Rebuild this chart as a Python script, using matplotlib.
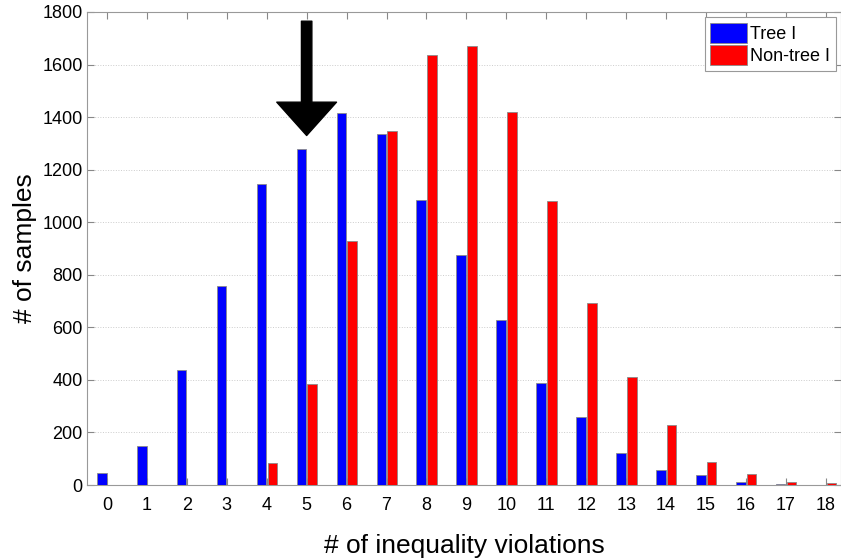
import numpy as np
import matplotlib
matplotlib.use("Agg")
import matplotlib.pyplot as plt

plt.rcParams['font.family'] = ['Liberation Sans', 'DejaVu Sans']

# data
violations = list(range(19))
tree = [45, 150, 436, 757, 1145, 1280, 1414, 1337, 1084, 875,
        628, 389, 259, 121, 56, 39, 10, 4, 0]
non_tree = [0, 0, 0, 0, 85, 383, 930, 1347, 1636, 1670,
            1418, 1081, 693, 411, 228, 89, 42, 10, 6]
labels = ['Tree I', 'Non-tree I']
arrow_x = 5
arrow_from = 1765
arrow_to = 1330

fig = plt.figure(figsize=(8.41, 5.59), dpi=100)
ax = fig.add_axes([87/841, 1 - 485/559, 1 - 87/841, (485 - 12)/559])

x = np.array(violations)
ax.bar(x - 0.13, tree, width=0.24, color=(0, 0, 1), edgecolor='#8a8a8a',
       linewidth=0.6, label=labels[0], zorder=3)
ax.bar(x + 0.14, non_tree, width=0.24, color=(1, 0, 0), edgecolor='#8a8a8a',
       linewidth=0.6, label=labels[1], zorder=3)

ax.set_xlim(-0.5, 18.38)
ax.set_ylim(0, 1800)
ax.set_xticks(violations)
ax.set_yticks(range(0, 1801, 200))
ax.tick_params(direction='in', top=True, right=True, labelsize=13,
               length=5, color='#888888')
ax.tick_params(axis='x', pad=9)
ax.tick_params(axis='y', pad=3)
for s in ax.spines.values():
    s.set_color('#999999')
    s.set_linewidth(0.8)
ax.yaxis.grid(True, linestyle=':', color='#cccccc', linewidth=0.7)
ax.set_axisbelow(True)

ax.set_xlabel('# of inequality violations', fontsize=19, labelpad=14)
ax.set_ylabel('# of samples', fontsize=19, labelpad=4)

ax.annotate('', xy=(arrow_x, arrow_to), xytext=(arrow_x, arrow_from),
            arrowprops=dict(arrowstyle='simple,head_width=4.3,head_length=2.4,tail_width=0.75',
                            mutation_scale=10, color='black', shrinkA=0, shrinkB=0),
            zorder=5)

leg = ax.legend(loc='upper right', fontsize=13, fancybox=False,
                edgecolor='#999999', handlelength=2.0, handleheight=1.3,
                handletextpad=0.2, borderpad=0.3, labelspacing=0.15,
                borderaxespad=0.3, framealpha=1)
leg.get_frame().set_linewidth(0.8)

fig.savefig('out.png', dpi=100)
